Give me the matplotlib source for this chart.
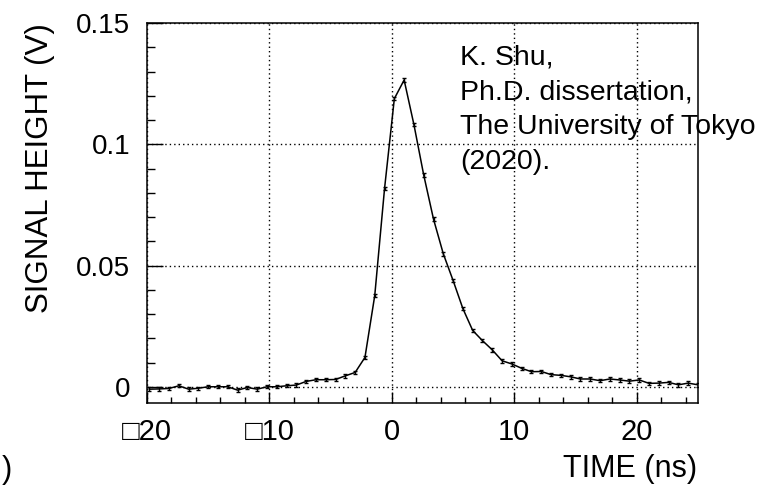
import numpy as np
import matplotlib
matplotlib.use("Agg")
import matplotlib.pyplot as plt
from matplotlib.ticker import MultipleLocator

plt.rcParams['font.family'] = ['Liberation Sans', 'DejaVu Sans']

# waveform samples (ns, V)
time_ns = [-19.8, -19.0, -18.2, -17.4, -16.6, -15.8, -15.0, -14.2, -13.4, -12.6,
           -11.8, -11.0, -10.2, -9.4, -8.6, -7.8, -7.0, -6.2, -5.4, -4.6,
           -3.8, -3.0, -2.2, -1.4, -0.6, 0.2, 1.0, 1.8, 2.6, 3.4,
           4.2, 5.0, 5.8, 6.6, 7.4, 8.2, 9.0, 9.8, 10.6, 11.4,
           12.2, 13.0, 13.8, 14.6, 15.4, 16.2, 17.0, 17.8, 18.6, 19.4,
           20.2, 21.0, 21.8, 22.6, 23.4, 24.2, 25.0]
signal_v = [-0.0010, -0.0009, -0.0007, 0.0004, -0.0010, -0.0006, 0.0000, 0.0000, 0.0000, -0.0014,
            -0.0003, -0.0010, 0.0000, 0.0000, 0.0004, 0.0007, 0.0022, 0.0029, 0.0029, 0.0030,
            0.0045, 0.0059, 0.0121, 0.0376, 0.0817, 0.1188, 0.1265, 0.1081, 0.0873, 0.0691,
            0.0548, 0.0438, 0.0322, 0.0232, 0.0190, 0.0152, 0.0107, 0.0094, 0.0076, 0.0062,
            0.0063, 0.0050, 0.0047, 0.0041, 0.0032, 0.0032, 0.0025, 0.0032, 0.0028, 0.0023,
            0.0028, 0.0014, 0.0015, 0.0018, 0.0008, 0.0015, 0.0008]
signal_err = [0.0007] * len(signal_v)

x_ticks = [-20, -10, 0, 10, 20]
x_tick_labels = ['\u25a120', '\u25a110', '0', '10', '20']
y_ticks = [0, 0.05, 0.1, 0.15]
y_tick_labels = ['0', '0.05', '0.1', '0.15']

note_lines = ['K. Shu,', 'Ph.D. dissertation,', 'The University of Tokyo', '(2020).']

W, H = 781, 491
fig = plt.figure(figsize=(W / 100, H / 100), dpi=100)
ax = fig.add_axes([147 / W, 1 - 403 / H, (698 - 147) / W, (403 - 23) / H])

ax.errorbar(time_ns, signal_v, yerr=signal_err, color='black', lw=1.1,
            elinewidth=1.0, capsize=1.6, capthick=1.0, zorder=3)

ax.set_xlim(-20, 25)
ax.set_ylim(-0.0067, 0.15)

ax.set_xticks(x_ticks)
ax.set_xticklabels(x_tick_labels, fontsize=21)
ax.set_yticks(y_ticks)
ax.set_yticklabels(y_tick_labels, fontsize=20)
ax.xaxis.set_minor_locator(MultipleLocator(2))
ax.yaxis.set_minor_locator(MultipleLocator(0.01))

ax.tick_params(axis='x', which='major', direction='in', length=8, width=1.0, pad=11)
ax.tick_params(axis='x', which='minor', direction='in', length=4.3, width=1.0)
ax.tick_params(axis='y', which='major', direction='in', length=11.5, width=1.0, pad=12)
ax.tick_params(axis='y', which='minor', direction='in', length=5.8, width=1.0)

ax.grid(True, which='major', color='black', lw=1.0, linestyle=(0, (1, 2.2)))
for s in ax.spines.values():
    s.set_linewidth(1.1)

fig.text(40 / W, 1 - 168 / H, 'SIGNAL HEIGHT (V)', rotation=90, fontsize=22.5,
         ha='center', va='center')
fig.text(697 / W, 1 - 469 / H, 'TIME (ns)', fontsize=22, ha='right', va='center')

for i, line in enumerate(note_lines):
    fig.text(460 / W, 1 - (65 + 34.5 * i) / H, line, fontsize=20.5,
             ha='left', va='baseline')

# stray bracket from the neighbouring figure
fig.text(2 / W, 1 - 470 / H, ')', fontsize=22, ha='left', va='center')

fig.savefig('out.png', dpi=100)
